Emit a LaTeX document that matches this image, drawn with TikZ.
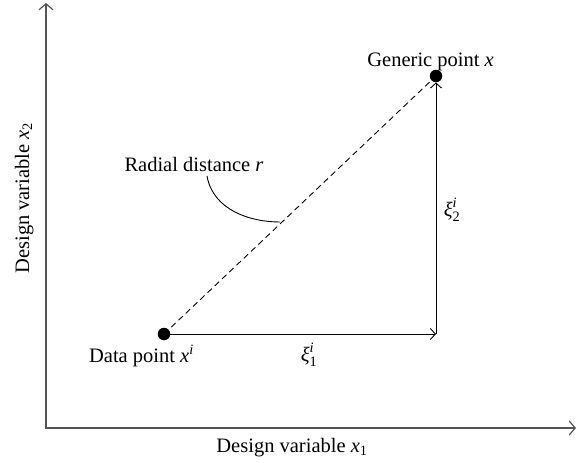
\documentclass[tikz,border=0pt]{standalone}
\usepackage{amsmath}
\usepackage{fontspec}
\setmainfont{Liberation Serif}
\usetikzlibrary{arrows.meta}
\newcommand{\vi}[1]{\textit{#1}}
\begin{document}
\begin{tikzpicture}[x=1pt,y=-1pt,
  axis/.style={draw=black!67, line width=1.5pt, -{Straight Barb[length=6pt,width=14pt,line width=1.2pt]}},
  vec/.style={draw=black, line width=0.9pt, -{Straight Barb[length=5pt,width=11pt,line width=0.9pt]}},
  dot/.style={circle, fill=black, inner sep=0pt, minimum size=12.5pt},
  lbl/.style={font=\fontsize{20.5}{24}\selectfont, inner sep=0pt}]
\useasboundingbox (0,0) rectangle (579,463);
\coordinate (O) at (46,428);
\coordinate (ytop) at (46,3);
\coordinate (xend) at (576,428);
\draw[axis] (O) -- (ytop);
\draw[axis] ([xshift=-0.75pt]O) -- (xend);
\node[dot] (d) at (164,334) {};
\node[dot] (g) at (436,76) {};
\coordinate (c) at (436,334);
\draw[dashed, line width=0.9pt, dash pattern=on 6pt off 4pt] (d.center) -- (g.center);
\draw[vec] (d.center) -- (c);
\draw[vec] (c) -- (g.south);
\node[lbl, anchor=base east] (gl) at (494,66) {Generic point \vi{x}};
\node[lbl, anchor=base east] (dl) at (194,362) {Data point \vi{x}\textsuperscript{\vi{i}}};
\node[lbl, anchor=base] (x1) at (309,361) {$\textit{ξ}^{\textit{i}}_{\text{1}}$};
\node[lbl, anchor=base] (x2) at (452,216) {$\textit{ξ}^{\textit{i}}_{\text{2}}$};
\node[lbl, anchor=base] (rl) at (194,171) {Radial distance \vi{r}};
\coordinate (cs) at (207,176);
\coordinate (ce) at (280,222);
\draw[line width=0.9pt] (cs) .. controls (213,210) and (250,222) .. (ce);
\node[lbl, anchor=base] (ax1) at (292,452) {Design variable \vi{x}\textsubscript{1}};
\node[lbl, anchor=base, rotate=90] (ax2) at (29,198) {Design variable \vi{x}\textsubscript{2}};
\end{tikzpicture}
\end{document}
